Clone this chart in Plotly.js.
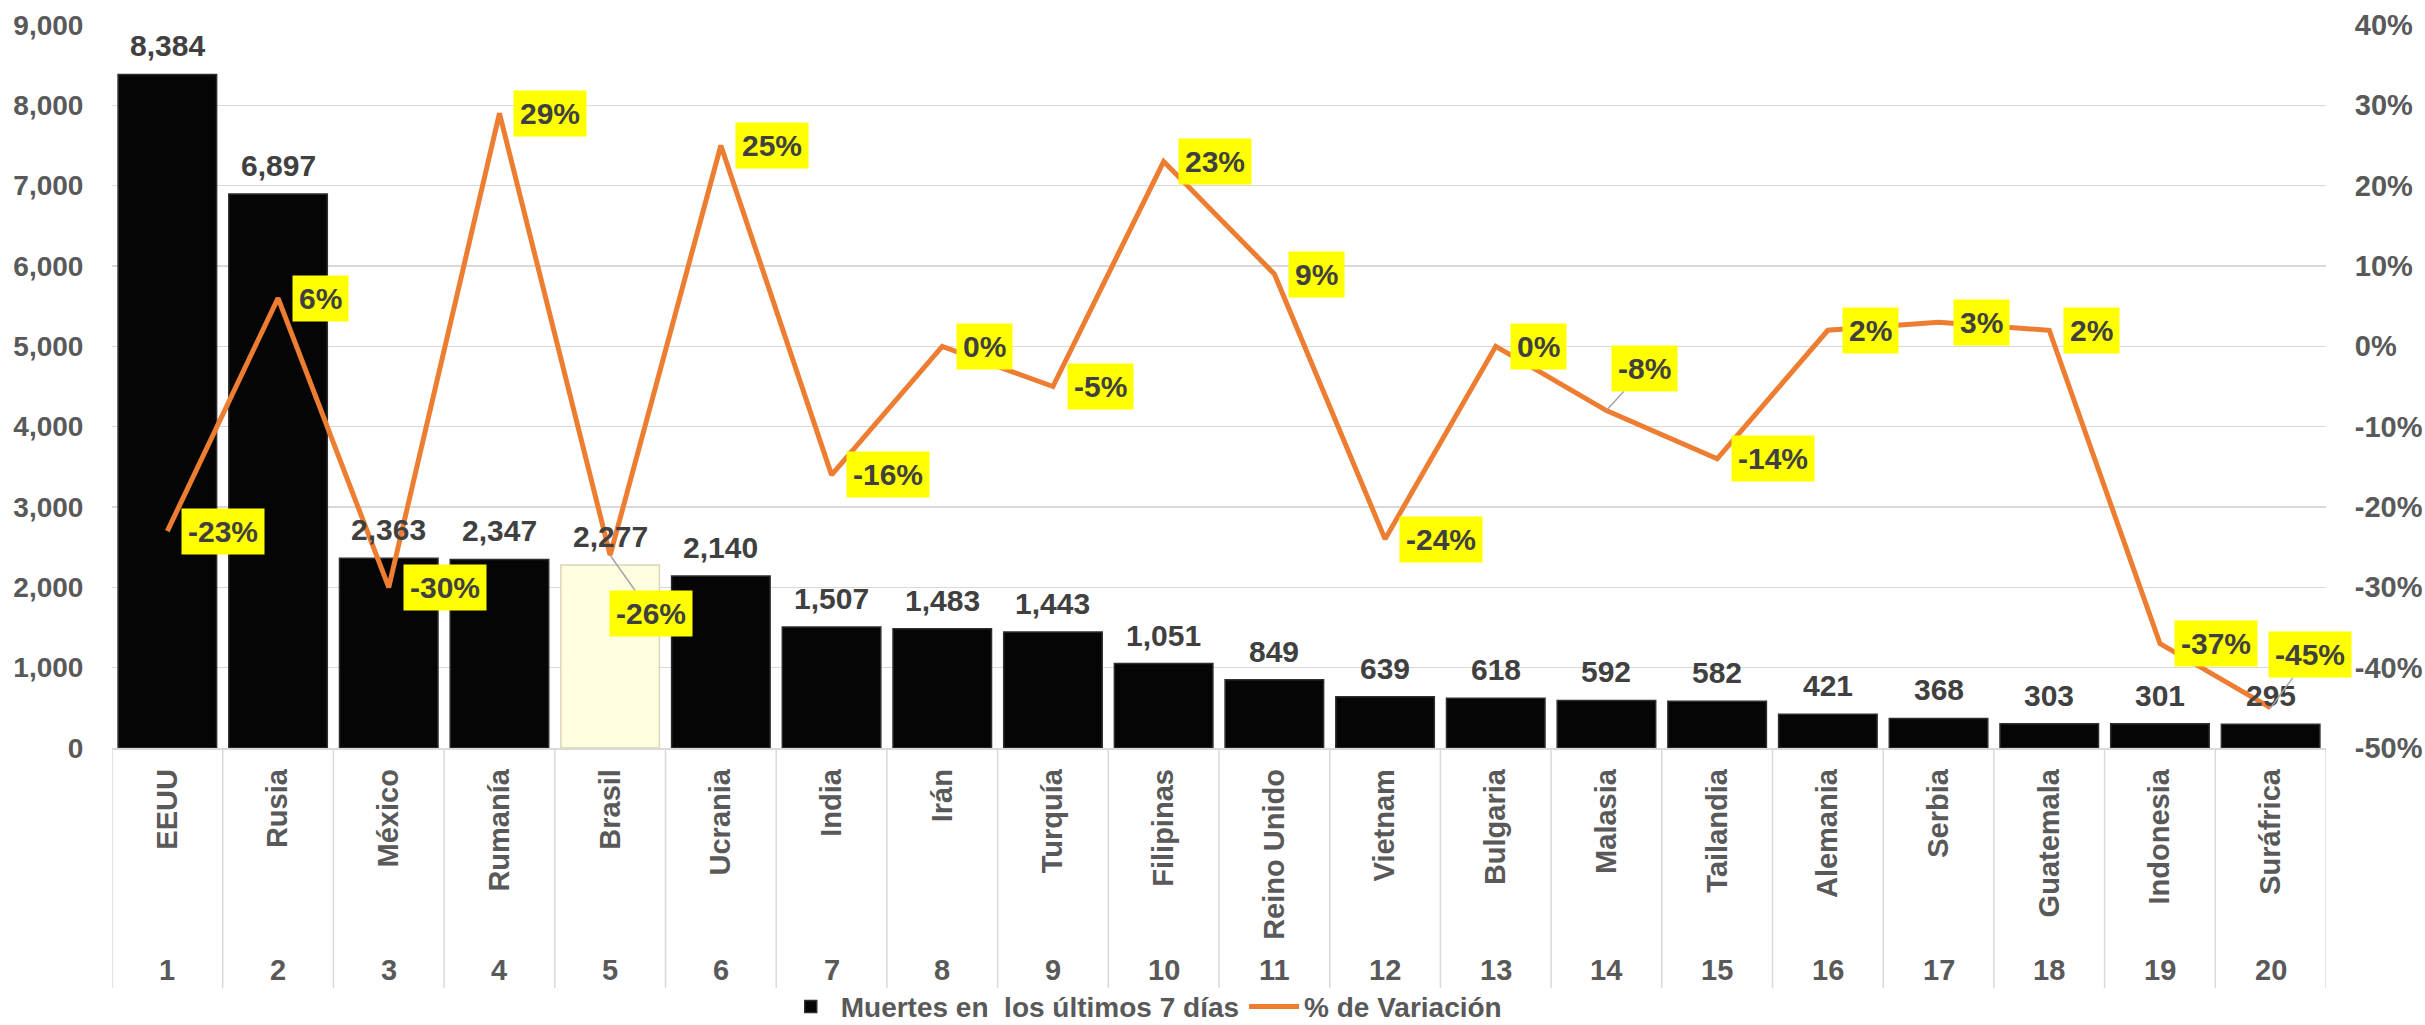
<!DOCTYPE html>
<html>
<head>
<meta charset="utf-8">
<script src="https://cdn.plot.ly/plotly-3.0.1.min.js"></script>
<style>
  html, body { margin: 0; padding: 0; background: #ffffff; }
  #chart { width: 2425px; height: 1025px; }
</style>
</head>
<body>
<div id="chart"></div>
<script>
// ---------- DATA ----------
const countries = ["EEUU", "Rusia", "México", "Rumanía", "Brasil", "Ucrania", "India", "Irán", "Turquía", "Filipinas",
                   "Reino Unido", "Vietnam", "Bulgaria", "Malasia", "Tailandia", "Alemania", "Serbia", "Guatemala", "Indonesia", "Suráfrica"];
const ranks = ["1", "2", "3", "4", "5", "6", "7", "8", "9", "10", "11", "12", "13", "14", "15", "16", "17", "18", "19", "20"];
const deaths7d = [8384, 6897, 2363, 2347, 2277, 2140, 1507, 1483, 1443, 1051, 849, 639, 618, 592, 582, 421, 368, 303, 301, 295];
const pctChange = [-0.23, 0.06, -0.30, 0.29, -0.26, 0.25, -0.16, 0.00, -0.05, 0.23, 0.09, -0.24, 0.00, -0.08, -0.14, 0.02, 0.03, 0.02, -0.37, -0.45];
const pctTicks = [-0.5, -0.4, -0.3, -0.2, -0.1, 0, 0.1, 0.2, 0.3, 0.4];
const seriesNames = ["Muertes en \u00a0los últimos 7 días", "% de Variación"];
const highlightCountry = "Brasil";

// ---------- STYLE ----------
const FONT = "Liberation Sans, Arial, Helvetica, sans-serif";
const GRAY = "#595959";
const DARK = "#404040";
const GRID = "#D9D9D9";
const ORANGE = "#ED7D31";

const fmtPct = v => Math.round(v * 100) + "%";

const barColors = countries.map(c => c === highlightCountry ? "#FFFDE0" : "#050505");
const barLines = countries.map(c => c === highlightCountry ? "#DDD5B8" : "#2E2E2E");

const barTrace = {
  type: "bar",
  name: seriesNames[0],
  x: countries,
  y: deaths7d,
  marker: { color: barColors, line: { color: barLines, width: 1.5 } },
  yaxis: "y",
  hoverinfo: "skip"
};

const lineTrace = {
  type: "scatter",
  mode: "lines",
  name: seriesNames[1],
  x: countries,
  y: pctChange,
  yaxis: "y2",
  line: { color: ORANGE, width: 5 },
  hoverinfo: "skip"
};

const annotations = [];

// bar value labels
countries.forEach((c, i) => {
  annotations.push({
    xref: "x", yref: "y", x: c, y: deaths7d[i],
    text: deaths7d[i].toLocaleString("en-US"),
    showarrow: false, yanchor: "bottom", xanchor: "center", yshift: 10,
    font: { family: FONT, size: 30, color: DARK, weight: "bold" }
  });
});

// percentage labels (yellow boxes)
const calloutOffsets = { "Brasil": [41, 58], "Malasia": [38, -42], "Suráfrica": [39, -53] };
countries.forEach((c, i) => {
  const base = {
    xref: "x", yref: "y2", x: c, y: pctChange[i], text: fmtPct(pctChange[i]),
    bgcolor: "#FFFF00", borderpad: 6,
    font: { family: FONT, size: 30, color: DARK, weight: "bold" }
  };
  if (calloutOffsets[c]) {
    Object.assign(base, {
      showarrow: true, arrowhead: 0, arrowwidth: 1.5, arrowcolor: "#A6A6A6",
      ax: calloutOffsets[c][0], ay: calloutOffsets[c][1], standoff: 0
    });
  } else {
    Object.assign(base, { showarrow: false, xanchor: "left", yanchor: "middle", xshift: 14 });
  }
  annotations.push(base);
});

// rank numbers under category names
countries.forEach((c, i) => {
  annotations.push({
    xref: "x", yref: "paper", x: c, y: -0.307, text: ranks[i],
    showarrow: false, yanchor: "middle", xanchor: "center",
    font: { family: FONT, size: 29, color: GRAY, weight: "bold" }
  });
});

// category dividers
const shapes = [];
for (let i = 0; i <= countries.length; i++) {
  shapes.push({
    type: "line", xref: "x", yref: "paper",
    x0: i - 0.5, x1: i - 0.5, y0: 0, y1: -0.332,
    line: { color: GRID, width: 1.5 }
  });
}

const layout = {
  width: 2425, height: 1025,
  margin: { l: 112, r: 99, t: 25, b: 277, autoexpand: false },
  paper_bgcolor: "#ffffff", plot_bgcolor: "#ffffff",
  showlegend: true,
  legend: {
    orientation: "h", x: 0.466, xanchor: "center", y: -0.358, yanchor: "middle",
    font: { family: FONT, size: 28, color: GRAY, weight: "bold" },
    itemwidth: 50, traceorder: "normal", tracegroupgap: 0,
    bgcolor: "rgba(0,0,0,0)"
  },
  bargap: 0.11,
  xaxis: {
    type: "category",
    tickangle: -90,
    tickfont: { family: FONT, size: 29, color: GRAY, weight: "bold" },
    ticks: "outside", ticklen: 8, tickcolor: "rgba(0,0,0,0)",
    showline: true, linecolor: GRID, linewidth: 1.5,
    showgrid: false, zeroline: false,
    range: [-0.5, countries.length - 0.5],
    automargin: false,
    fixedrange: true
  },
  yaxis: {
    range: [0, 9000], dtick: 1000, tick0: 0,
    tickformat: ",d",
    tickfont: { family: FONT, size: 28, color: GRAY, weight: "bold" },
    ticks: "outside", ticklen: 22, tickcolor: "rgba(0,0,0,0)",
    showgrid: true, gridcolor: GRID, gridwidth: 1.5,
    zeroline: false, showline: false,
    automargin: false,
    fixedrange: true
  },
  yaxis2: {
    overlaying: "y", side: "right",
    range: [-0.5, 0.4],
    tickmode: "array", tickvals: pctTicks, ticktext: pctTicks.map(fmtPct),
    tickfont: { family: FONT, size: 29, color: GRAY, weight: "bold" },
    ticks: "outside", ticklen: 22, tickcolor: "rgba(0,0,0,0)",
    showgrid: false, zeroline: false, showline: false,
    automargin: false,
    fixedrange: true
  },
  annotations: annotations,
  shapes: shapes
};

Plotly.newPlot("chart", [barTrace, lineTrace], layout, { displayModeBar: false, staticPlot: true });
</script>
</body>
</html>
